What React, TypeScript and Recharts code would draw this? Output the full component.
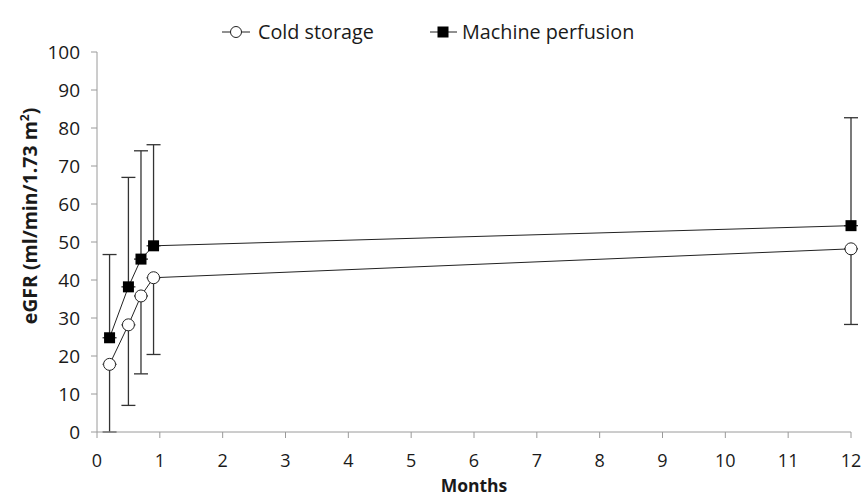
import React from "react";
import { ComposedChart, Line, XAxis, YAxis, ErrorBar, Legend } from "recharts";

const months = [0.2, 0.5, 0.7, 0.9, 12];
const coldStorage = [17.8, 28.2, 35.8, 40.6, 48.2];
const coldStorageLowerErr = [17.8, 21.2, 20.5, 20.2, 19.9];
const machinePerfusion = [24.8, 38.2, 45.5, 49.0, 54.3];
const machinePerfusionUpperErr = [21.9, 28.8, 28.5, 26.6, 28.4];
const xTicks = [0, 1, 2, 3, 4, 5, 6, 7, 8, 9, 10, 11, 12];
const yTicks = [0, 10, 20, 30, 40, 50, 60, 70, 80, 90, 100];

const data = months.map((m, i) => ({
  month: m,
  cold: coldStorage[i],
  coldErr: [coldStorageLowerErr[i], 0],
  machine: machinePerfusion[i],
  machineErr: [0, machinePerfusionUpperErr[i]],
}));

const FONT = "'Open Sans', 'Noto Sans', sans-serif";
const AXIS = "#9a9a9a";
const TEXT = "#1a1a1a";

const CircleDot = (props: any) => {
  const { cx, cy } = props;
  if (cx == null || cy == null) return null;
  return <circle cx={cx} cy={cy} r={6} fill="#fff" stroke="#222" strokeWidth={1} />;
};

const SquareDot = (props: any) => {
  const { cx, cy } = props;
  if (cx == null || cy == null) return null;
  return <rect x={cx - 5.5} y={cy - 5.5} width={11} height={11} fill="#000" />;
};

const XTick = (props: any) => {
  const { x, y, payload } = props;
  return (
    <text x={x} y={y + 27} textAnchor="middle" fontFamily={FONT} fontSize={18} fill={TEXT}>
      {payload.value}
    </text>
  );
};

const YTick = (props: any) => {
  const { y, payload } = props;
  return (
    <text x={80} y={y + 7} textAnchor="end" fontFamily={FONT} fontSize={19} fill={TEXT}>
      {payload.value}
    </text>
  );
};

const LegendContent = () => (
  <svg width={480} height={26} style={{ overflow: "visible" }}>
    <g>
      <line x1={0} y1={13} x2={28} y2={13} stroke="#222" strokeWidth={1} />
      <circle cx={14} cy={13} r={5.5} fill="#fff" stroke="#222" strokeWidth={1} />
      <text x={36} y={20} fontFamily={FONT} fontSize={19.8} fill={TEXT}>Cold storage</text>
    </g>
    <g transform="translate(208,0)">
      <line x1={0} y1={13} x2={27} y2={13} stroke="#222" strokeWidth={1} />
      <rect x={7.5} y={7.5} width={11} height={11} fill="#000" />
      <text x={32} y={20} fontFamily={FONT} fontSize={19.8} fill={TEXT}>Machine perfusion</text>
    </g>
  </svg>
);

const YLabel = () => {
  const cx = 37;
  const cy = 216;
  return (
    <text
      transform={`translate(${cx},${cy}) rotate(-90)`}
      textAnchor="middle"
      fontFamily={FONT}
      fontSize={19.5}
      fontWeight="bold"
      fill={TEXT}
    >
      eGFR (ml/min/1.73 m<tspan dy={-8} fontSize={12}>2</tspan><tspan dy={8}>)</tspan>
    </text>
  );
};

const XLabel = () => (
  <text x={474} y={492} textAnchor="middle" fontFamily={FONT} fontSize={17.5} fontWeight="bold" fill={TEXT}>
    Months
  </text>
);

export default function App() {
  return (
    <div style={{ position: "absolute", left: 0, top: 0 }}>
      <ComposedChart
        width={863}
        height={497}
        data={data}
        margin={{ top: 22, right: 12, bottom: 0, left: 0 }}
      >
        <XAxis
          type="number"
          dataKey="month"
          domain={[0, 12]}
          ticks={xTicks}
          interval={0}
          height={65}
          stroke={AXIS}
          tickSize={6}
          tick={<XTick />}
          label={<XLabel />}
        />
        <YAxis
          type="number"
          domain={[0, 100]}
          ticks={yTicks}
          interval={0}
          width={97}
          stroke={AXIS}
          tickSize={6}
          tick={<YTick />}
          label={<YLabel />}
        />
        <Legend
          verticalAlign="top"
          content={<LegendContent />}
          wrapperStyle={{ top: 19, left: 222, width: 480 }}
        />
        <Line
          dataKey="cold"
          stroke="#222"
          strokeWidth={1}
          isAnimationActive={false}
          dot={<CircleDot />}
          activeDot={false}
        >
          <ErrorBar dataKey="coldErr" width={7} stroke="#333" strokeWidth={1.3} direction="y" />
        </Line>
        <Line
          dataKey="machine"
          stroke="#222"
          strokeWidth={1}
          isAnimationActive={false}
          dot={<SquareDot />}
          activeDot={false}
        >
          <ErrorBar dataKey="machineErr" width={7} stroke="#333" strokeWidth={1.3} direction="y" />
        </Line>
      </ComposedChart>
    </div>
  );
}
